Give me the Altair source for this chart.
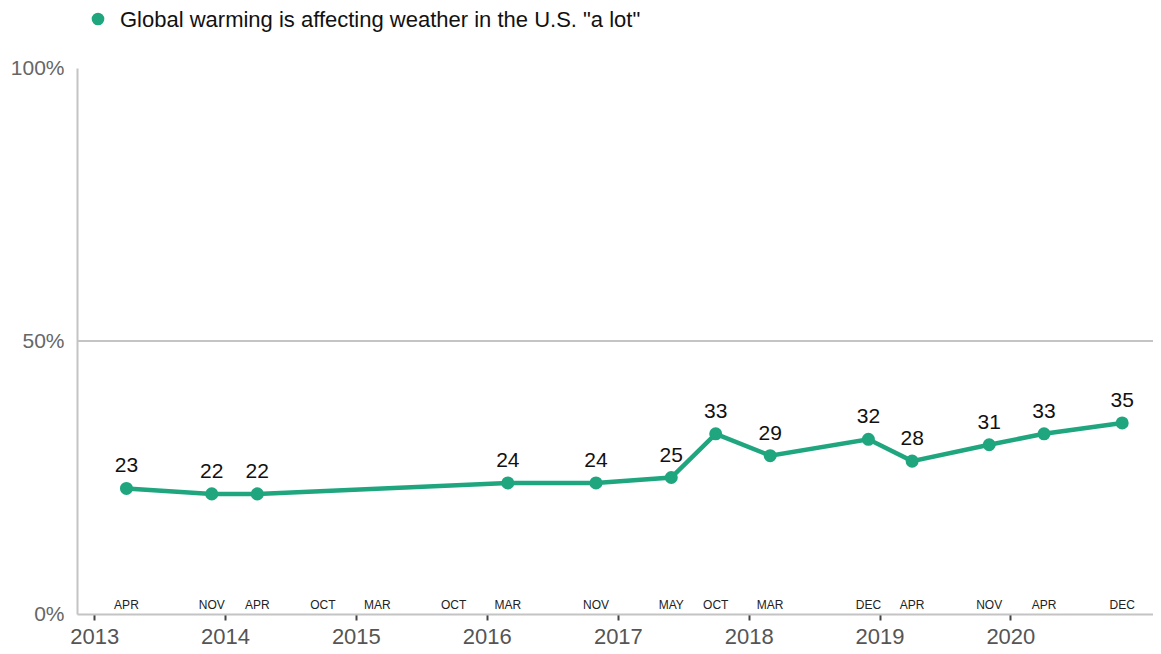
import altair as alt
import pandas as pd

GREEN = "#1fa67f"

# Survey waves (data)
dates = ["2013-04-01", "2013-11-25", "2014-04-01", "2016-02-29", "2016-11-01",
         "2017-05-30", "2017-10-01", "2018-03-02", "2018-12-01", "2019-04-02",
         "2019-11-03", "2020-04-04", "2020-11-08"]
values = [23, 22, 22, 24, 24, 25, 33, 29, 32, 28, 31, 33, 35]

# Month labels along the bottom of the plot
month_dates = ["2013-04-01", "2013-11-25", "2014-04-01", "2014-10-01", "2015-03-02",
               "2015-10-01", "2016-02-29", "2016-11-01", "2017-05-30", "2017-10-01",
               "2018-03-02", "2018-12-01", "2019-04-02", "2019-11-03", "2020-04-04",
               "2020-11-08"]
month_labels = ["APR", "NOV", "APR", "OCT", "MAR", "OCT", "MAR", "NOV", "MAY", "OCT",
                "MAR", "DEC", "APR", "NOV", "APR", "DEC"]

year_ticks = [2013, 2014, 2015, 2016, 2017, 2018, 2019, 2020]
y_ticks = [0, 50, 100]
grid_values = [50]
legend_text = 'Global warming is affecting weather in the U.S. "a lot"'

df = pd.DataFrame({"date": dates, "value": values})
df_m = pd.DataFrame({"date": month_dates, "label": month_labels})
df_g = pd.DataFrame({"value": grid_values})

FONT = "Liberation Sans"

xscale = alt.Scale(type="utc",
                   domain=[alt.DateTime(year=2012, month=11, date=14, utc=True),
                           alt.DateTime(year=2021, month=2, date=2, utc=True)])
yscale = alt.Scale(domain=[0, 100], nice=False)

x_axis = alt.Axis(values=[alt.DateTime(year=y, month=1, date=1, utc=True) for y in year_ticks],
                  format="%Y", formatType="utc", title=None, grid=False,
                  labelFontSize=22, labelColor="#555555", labelFont=FONT,
                  tickColor="#444444", tickWidth=2, tickSize=6, labelPadding=6,
                  domainColor="#c4c4c4", domainWidth=2, labelFlush=False)
y_axis = alt.Axis(values=y_ticks, labelExpr="datum.value + '%'", title=None, grid=False,
                  ticks=False, labelFontSize=21, labelColor="#666666", labelFont=FONT,
                  labelPadding=13, domainColor="#c4c4c4", domainWidth=2)

X = alt.X("date:T", scale=xscale, axis=x_axis, title=None)
Y = alt.Y("value:Q", scale=yscale, axis=y_axis, title=None)

grid = alt.Chart(df_g).mark_rule(color="#c4c4c4", strokeWidth=2).encode(y=Y)

line = alt.Chart(df).mark_line(color=GREEN, strokeWidth=4.5).encode(x=X, y=Y)
pts = alt.Chart(df).mark_circle(color=GREEN, size=170, opacity=1).encode(x=X, y=Y)
lbl = alt.Chart(df).mark_text(dy=-22, fontSize=21, color="#111111", font=FONT,
                              baseline="middle").encode(x=X, y=Y, text="value:Q")

months = alt.Chart(df_m).mark_text(fontSize=12, color="#222222", font=FONT,
                                   baseline="middle").encode(
    x=X, y=alt.value(537), text="label:N")

leg_dot = alt.Chart(pd.DataFrame({"t": [legend_text]})).mark_circle(
    color=GREEN, size=160, opacity=1).encode(x=alt.value(21), y=alt.value(-49))
leg_txt = alt.Chart(pd.DataFrame({"t": [legend_text]})).mark_text(
    align="left", baseline="middle", fontSize=22, color="#111111", font=FONT).encode(
    x=alt.value(43), y=alt.value(-48), text="t:N")

chart = alt.layer(grid, line, pts, lbl, months, leg_dot, leg_txt).properties(
    width=1076, height=546,
    autosize=alt.AutoSizeParams(type="none"),
    padding={"left": 69, "top": 60, "right": 0, "bottom": 40},
).configure_view(stroke=None)

chart.save("out.html", embed_options={"renderer": "svg", "actions": False})
